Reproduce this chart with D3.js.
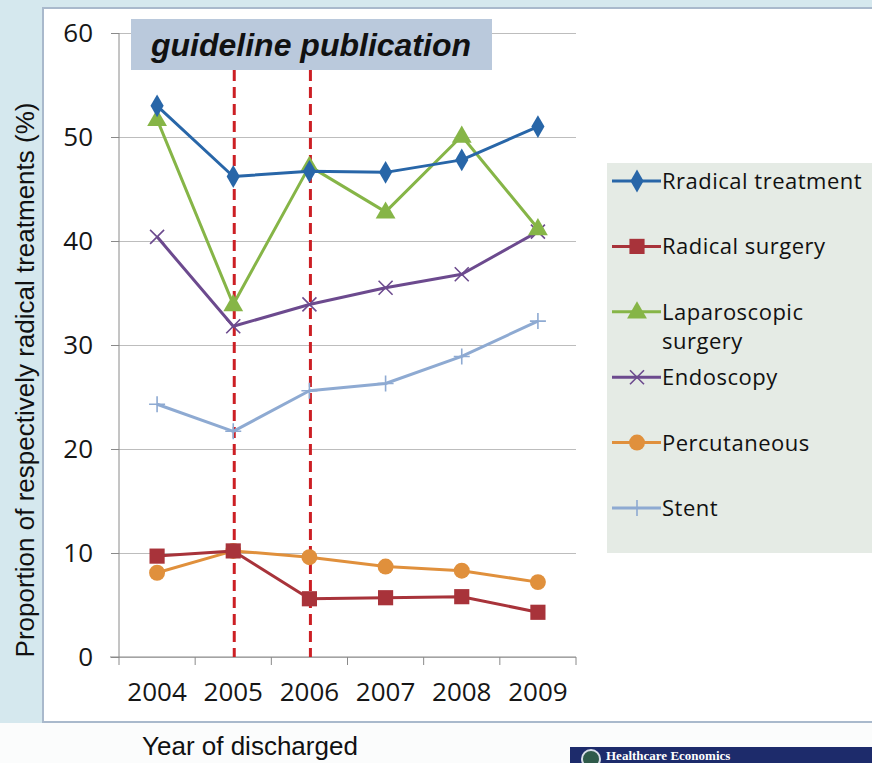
<!DOCTYPE html>
<html>
<head>
<meta charset="utf-8">
<script src="https://cdn.jsdelivr.net/npm/d3@7"></script>
<style>
  body { margin: 0; background: #fbfcfc; }
  svg { display: block; }
  .tick text { font-family: "Open Sans", sans-serif; fill: #161616; }
</style>
</head>
<body>
<svg id="chart" width="872" height="763"></svg>
<script>
// values (% of radical treatments)
var years = ["2004", "2005", "2006", "2007", "2008", "2009"];
var radicalTreatment = [53.0, 46.2, 46.7, 46.6, 47.8, 51.0];
var radicalSurgery = [9.7, 10.2, 5.6, 5.7, 5.8, 4.3];
var laparoscopic = [51.7, 33.9, 47.2, 42.8, 50.1, 41.2];
var endoscopy = [40.4, 31.8, 33.9, 35.5, 36.8, 40.9];
var percutaneous = [8.1, 10.2, 9.6, 8.7, 8.3, 7.2];
var stent = [24.3, 21.7, 25.6, 26.3, 28.9, 32.3];
var guidelineYears = ["2005", "2006"];
var yTicks = [0, 10, 20, 30, 40, 50, 60];

var series = [
    {name: "Rradical treatment", values: radicalTreatment, color: "#2866a8", marker: "diamond"},
    {name: "Radical surgery", values: radicalSurgery, color: "#a8333a", marker: "square"},
    {name: "Laparoscopic surgery", lines: ["Laparoscopic", "surgery"], values: laparoscopic, color: "#86b547", marker: "triangle"},
    {name: "Endoscopy", values: endoscopy, color: "#6c4a8e", marker: "times"},
    {name: "Percutaneous", values: percutaneous, color: "#e0903c", marker: "circle"},
    {name: "Stent", values: stent, color: "#8eaad2", marker: "plus"}
];

var svg = d3.select("#chart");

// slide background + white panel
svg.append("rect").attr("x", 0).attr("y", 0).attr("width", 872).attr("height", 723)
    .attr("fill", "#d5e8ee");
svg.append("rect").attr("x", 43).attr("y", 8).attr("width", 840).attr("height", 714)
    .attr("fill", "#ffffff").attr("stroke", "#a9b9cc").attr("stroke-width", 2);

var x = d3.scaleBand().domain(years).range([119, 576]);
var y = d3.scaleLinear().domain([0, 60]).range([657, 33]);

function cx(d) {
    return x(d) + x.bandwidth() / 2;
}

// gridlines
svg.append("g")
    .attr("transform", "translate(119,0)")
    .call(d3.axisLeft(y).tickValues(yTicks).tickSize(-(576 - 119)).tickFormat(""))
    .call(function (g) {
        g.select(".domain").remove();
        g.selectAll("line").attr("stroke", "#bdbdbd").attr("stroke-width", 1);
    });

// y axis
svg.append("g")
    .attr("transform", "translate(119,0)")
    .call(d3.axisLeft(y).tickValues(yTicks).tickSize(8).tickPadding(18))
    .call(function (g) {
        g.select(".domain").attr("stroke", "#8a8a8a").attr("d", "M0," + y(60) + "V" + y(0));
        g.selectAll("line").attr("stroke", "#8a8a8a");
        g.selectAll("text").attr("font-size", 26);
    });

// x axis: labels at band centres, ticks at band edges
svg.append("g")
    .attr("transform", "translate(0," + y(0) + ")")
    .call(d3.axisBottom(x).tickSize(0).tickPadding(26))
    .call(function (g) {
        g.select(".domain").attr("stroke", "#8a8a8a").attr("d", "M110,0H576");
        g.selectAll("text").attr("font-size", 26);
    });

var edges = years.map(function (d) { return x(d); }).concat([x.range()[1]]);
svg.append("g").selectAll("line")
    .data(edges)
    .enter()
    .append("line")
    .attr("x1", function (d) { return d; })
    .attr("x2", function (d) { return d; })
    .attr("y1", y(0))
    .attr("y2", y(0) + 8)
    .attr("stroke", "#8a8a8a");

// guideline publication markers
svg.append("g").selectAll("line")
    .data(guidelineYears)
    .enter()
    .append("line")
    .attr("x1", function (d) { return cx(d) + 1; })
    .attr("x2", function (d) { return cx(d) + 1; })
    .attr("y1", 70)
    .attr("y2", y(0))
    .attr("stroke", "#cc1f24")
    .attr("stroke-width", 3)
    .attr("stroke-dasharray", "11,6");

svg.append("rect").attr("x", 131).attr("y", 19).attr("width", 361).attr("height", 51)
    .attr("fill", "#bac9dc");
svg.append("text")
    .attr("x", 311).attr("y", 56)
    .attr("text-anchor", "middle")
    .attr("font-family", "Liberation Sans, Arial, sans-serif")
    .attr("font-weight", "bold")
    .attr("font-style", "italic")
    .attr("font-size", 32)
    .attr("fill", "#111")
    .text("guideline publication");

// marker drawing
function drawMarker(g, type, color) {
    if (type === "diamond") {
        g.append("path").attr("d", d3.symbol(d3.symbolDiamond, 150)()).attr("fill", color);
    } else if (type === "square") {
        g.append("path").attr("d", d3.symbol(d3.symbolSquare, 230)()).attr("fill", color);
    } else if (type === "triangle") {
        g.append("path").attr("d", d3.symbol(d3.symbolTriangle, 170)()).attr("fill", color)
            .attr("transform", "translate(0,1)");
    } else if (type === "circle") {
        g.append("path").attr("d", d3.symbol(d3.symbolCircle, 200)()).attr("fill", color);
    } else if (type === "times") {
        g.append("path").attr("d", "M-7,-7L7,7M-7,7L7,-7")
            .attr("stroke", color).attr("stroke-width", 1.6).attr("fill", "none");
    } else if (type === "plus") {
        g.append("path").attr("d", "M-8,0H8M0,-8V8")
            .attr("stroke", color).attr("stroke-width", 1.6).attr("fill", "none");
    }
}

var line = d3.line()
    .x(function (d, i) { return cx(years[i]); })
    .y(function (d) { return y(d); });

// draw in back-to-front order similar to the original
var order = [5, 4, 3, 2, 1, 0];
order.forEach(function (k) {
    var s = series[k];
    var g = svg.append("g").attr("class", "series");
    g.append("path")
        .attr("d", line(s.values))
        .attr("fill", "none")
        .attr("stroke", s.color)
        .attr("stroke-width", 3)
        .attr("stroke-linejoin", "round");
    s.values.forEach(function (v, i) {
        var m = g.append("g").attr("transform", "translate(" + cx(years[i]) + "," + y(v) + ")");
        drawMarker(m, s.marker, s.color);
    });
});

// legend
var legend = svg.append("g");
legend.append("rect").attr("x", 607).attr("y", 163).attr("width", 270).attr("height", 390)
    .attr("fill", "#e5ebe5");
series.forEach(function (s, i) {
    var ly = 181 + i * 65.4;
    var item = legend.append("g").attr("transform", "translate(0," + ly + ")");
    item.append("line").attr("x1", 612).attr("x2", 661).attr("y1", 0).attr("y2", 0)
        .attr("stroke", s.color).attr("stroke-width", 3);
    var m = item.append("g").attr("transform", "translate(637,0)");
    drawMarker(m, s.marker, s.color);
    var t = item.append("text")
        .attr("x", 662)
        .attr("y", 8)
        .attr("font-family", "Open Sans, sans-serif")
        .attr("font-size", 22)
        .attr("letter-spacing", 0.5)
        .attr("fill", "#111");
    (s.lines || [s.name]).forEach(function (ln, j) {
        t.append("tspan").attr("x", 662).attr("dy", j === 0 ? 0 : 29).text(ln);
    });
});

// axis titles
svg.append("text")
    .attr("transform", "translate(34,380) rotate(-90)")
    .attr("text-anchor", "middle")
    .attr("font-family", "Liberation Sans, Arial, sans-serif")
    .attr("font-size", 26)
    .attr("fill", "#111")
    .text("Proportion of respectively radical treatments (%)");

svg.append("text")
    .attr("x", 142).attr("y", 755)
    .attr("font-family", "Liberation Sans, Arial, sans-serif")
    .attr("font-size", 26)
    .attr("fill", "#111")
    .text("Year of discharged");

// corner banner from the slide
svg.append("rect").attr("x", 570).attr("y", 747).attr("width", 302).attr("height", 16)
    .attr("fill", "#1d2b6b");
svg.append("circle").attr("cx", 591).attr("cy", 759).attr("r", 9)
    .attr("fill", "#2f5a4a").attr("stroke", "#d8dde8").attr("stroke-width", 2);
svg.append("text")
    .attr("x", 606).attr("y", 760)
    .attr("font-family", "Liberation Serif, serif")
    .attr("font-weight", "bold")
    .attr("font-size", 13)
    .attr("fill", "#ffffff")
    .text("Healthcare Economics");
</script>
</body>
</html>
